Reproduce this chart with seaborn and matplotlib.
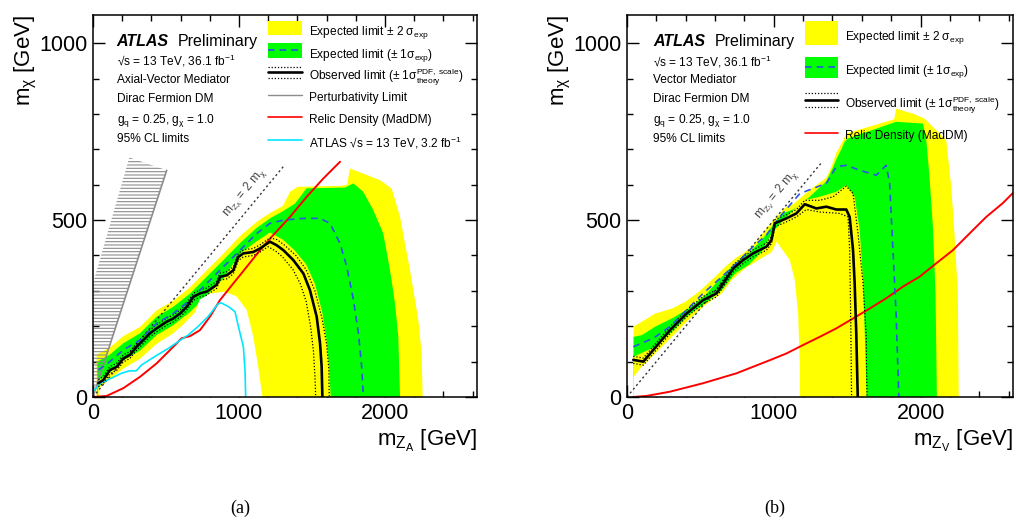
import matplotlib
matplotlib.use("Agg")
import matplotlib.pyplot as plt
import numpy as np
import seaborn as sns
from matplotlib.lines import Line2D
from matplotlib.patches import Rectangle
from matplotlib.ticker import MultipleLocator

# ---------------------------------------------------------------------------
# values (GeV)
# (a) axial-vector mediator
a_p2_x = [25, 25, 116, 208, 322, 436, 550, 664, 779, 893, 1007, 1121, 1212, 1300, 1350, 1400, 1700, 1740, 1760, 1966, 2046, 2103, 2171, 2228, 2251, 2258]
a_p2_y = [0, 120, 140, 172, 198, 245, 272, 310, 358, 405, 455, 495, 520, 540, 580, 594, 597, 600, 646, 613, 589, 509, 359, 218, 123, 0]
a_p1_x = [30, 30, 116, 208, 322, 436, 550, 664, 779, 893, 1007, 1121, 1212, 1300, 1384, 1463, 1726, 1783, 1851, 1920, 1988, 2034, 2068, 2091, 2103]
a_p1_y = [0, 100, 120, 152, 180, 227, 255, 292, 340, 387, 435, 478, 505, 525, 547, 590, 592, 604, 580, 528, 462, 359, 265, 170, 0]
a_m1_x = [35, 35, 116, 208, 322, 436, 550, 664, 779, 893, 1007, 1121, 1212, 1300, 1380, 1460, 1520, 1570, 1600, 1618, 1628]
a_m1_y = [0, 45, 70, 103, 131, 175, 203, 240, 287, 335, 405, 440, 465, 445, 415, 375, 320, 240, 160, 80, 0]
a_m2_x = [40, 40, 116, 208, 322, 436, 550, 620, 700, 730, 800, 900, 980, 1010, 1053, 1098, 1132, 1160]
a_m2_y = [0, 25, 50, 80, 108, 150, 180, 205, 240, 275, 292, 298, 285, 270, 246, 170, 85, 0]

a_exp_x = [37, 116, 208, 322, 436, 550, 664, 779, 893, 1007, 1121, 1212, 1304, 1441, 1555, 1623, 1692, 1738, 1784, 1818, 1840, 1852]
a_exp_y = [76, 100, 133, 161, 208, 236, 274, 321, 368, 415, 462, 491, 500, 505, 505, 491, 434, 368, 274, 180, 86, 0]

a_obs_x = [37, 71, 116, 162, 208, 253, 299, 345, 390, 436, 505, 550, 596, 642, 687, 733, 779, 847, 870, 916, 961, 995, 1030, 1098, 1144, 1212, 1258, 1304, 1372, 1441, 1486, 1532, 1555, 1566, 1571]
a_obs_y = [39, 48, 76, 85, 109, 119, 142, 161, 180, 194, 213, 222, 236, 255, 283, 293, 298, 317, 340, 344, 358, 396, 406, 410, 420, 439, 429, 415, 387, 349, 302, 227, 152, 86, 0]
a_obs_up_x = [37, 71, 116, 162, 208, 253, 299, 345, 390, 436, 505, 550, 596, 642, 687, 733, 779, 847, 870, 916, 961, 995, 1030, 1098, 1144, 1212, 1260, 1310, 1390, 1460, 1520, 1570, 1600, 1615, 1618]
a_obs_up_y = [49, 58, 86, 95, 119, 129, 152, 171, 190, 204, 223, 232, 246, 265, 293, 303, 308, 327, 350, 354, 368, 406, 416, 420, 430, 450, 445, 430, 400, 360, 300, 220, 150, 80, 0]
a_obs_dn_x = [37, 71, 116, 162, 208, 253, 299, 345, 390, 436, 505, 550, 596, 642, 687, 733, 779, 847, 870, 916, 961, 995, 1030, 1098, 1144, 1200, 1260, 1300, 1370, 1420, 1460, 1490, 1510, 1520, 1525]
a_obs_dn_y = [29, 38, 66, 75, 99, 109, 132, 151, 170, 184, 203, 212, 226, 245, 273, 283, 288, 307, 330, 334, 348, 386, 396, 400, 410, 425, 410, 395, 360, 320, 270, 200, 130, 60, 0]

a_relic_x = [0, 94, 208, 322, 436, 550, 607, 664, 733, 801, 870, 961, 1053, 1144, 1224, 1349, 1464, 1578, 1692]
a_relic_y = [0, 3, 25, 57, 95, 142, 166, 172, 189, 227, 274, 321, 368, 415, 453, 509, 566, 618, 665]
a_prev_x = [11, 57, 126, 194, 251, 297, 331, 422, 514, 582, 651, 719, 788, 856, 879, 930, 973, 996, 1030, 1041, 1046]
a_prev_y = [20, 40, 53, 67, 74, 74, 90, 114, 137, 156, 175, 199, 227, 263, 266, 255, 241, 199, 142, 76, 0]
a_pert_x = [0, 505]
a_pert_y = [0, 641]
a_pert_hatch_x = [0, 505, 249, -40]
a_pert_hatch_y = [0, 641, 677, 263]
a_diag_x = [0, 1315]
a_diag_y = [0, 657]

# (b) vector mediator
b_p2_x = [45, 45, 102, 193, 306, 397, 488, 578, 669, 737, 805, 873, 941, 1009, 1077, 1132, 1245, 1358, 1392, 1426, 1472, 1494, 1820, 1834, 1948, 2027, 2175, 2209, 2231, 2254, 2260]
b_p2_y = [0, 199, 213, 236, 250, 269, 297, 331, 368, 392, 410, 434, 472, 505, 535, 545, 585, 620, 650, 690, 725, 745, 785, 815, 801, 787, 726, 594, 462, 293, 0]
b_p1_x = [45, 45, 102, 193, 306, 420, 533, 646, 737, 828, 918, 986, 1054, 1132, 1245, 1358, 1404, 1426, 1460, 1483, 1505, 1834, 2016, 2039, 2061, 2084, 2102, 2111]
b_p1_y = [0, 170, 175, 199, 222, 250, 288, 340, 378, 406, 444, 481, 519, 530, 566, 610, 650, 672, 700, 722, 731, 778, 773, 726, 622, 481, 293, 0]
b_m1_x = [45, 45, 193, 306, 420, 533, 646, 737, 828, 918, 986, 1054, 1199, 1313, 1426, 1494, 1551, 1585, 1608, 1619, 1633]
b_m1_y = [0, 114, 142, 185, 232, 265, 302, 349, 373, 410, 462, 495, 556, 566, 580, 599, 566, 472, 331, 189, 0]
b_m2_x = [45, 45, 102, 193, 306, 420, 533, 646, 714, 805, 896, 986, 1020, 1109, 1143, 1166, 1177, 1177]
b_m2_y = [0, 57, 86, 123, 170, 218, 260, 293, 331, 364, 387, 410, 439, 387, 331, 236, 95, 0]

b_exp_x = [43, 179, 293, 406, 519, 633, 746, 859, 950, 1041, 1177, 1358, 1426, 1494, 1585, 1698, 1766, 1789, 1812, 1834, 1852]
b_exp_y = [142, 166, 199, 246, 293, 335, 378, 425, 458, 509, 575, 604, 651, 655, 641, 627, 655, 604, 415, 227, 0]

b_obs_x = [43, 111, 179, 293, 406, 519, 610, 678, 723, 791, 859, 950, 984, 1007, 1086, 1154, 1211, 1290, 1358, 1426, 1494, 1517, 1540, 1551, 1562, 1572]
b_obs_y = [105, 100, 133, 189, 236, 274, 293, 335, 363, 387, 406, 425, 443, 491, 505, 519, 545, 533, 538, 530, 530, 509, 415, 321, 180, 0]
b_obs_up_x = [43, 111, 179, 293, 406, 519, 610, 678, 723, 791, 859, 950, 984, 1007, 1086, 1154, 1211, 1313, 1404, 1494, 1540, 1574, 1608, 1630, 1635]
b_obs_up_y = [115, 110, 143, 199, 246, 284, 303, 345, 373, 397, 416, 435, 453, 501, 515, 530, 556, 556, 566, 596, 575, 462, 321, 171, 0]
b_obs_dn_x = [43, 111, 179, 293, 406, 519, 610, 678, 723, 791, 859, 950, 984, 1007, 1086, 1154, 1222, 1313, 1449, 1506, 1517, 1524, 1530]
b_obs_dn_y = [95, 90, 123, 179, 226, 264, 283, 325, 353, 377, 396, 415, 433, 481, 495, 509, 530, 523, 519, 509, 415, 227, 0]

b_relic_x = [43, 134, 293, 519, 746, 973, 1086, 1200, 1313, 1426, 1540, 1653, 1766, 1880, 1993, 2107, 2220, 2333, 2447, 2560, 2630]
b_relic_y = [0, 3, 15, 39, 67, 104, 123, 147, 170, 194, 222, 250, 279, 312, 340, 378, 415, 462, 509, 548, 577]
b_diag_x = [0, 1320]
b_diag_y = [0, 660]

# ---------------------------------------------------------------------------
YELLOW = "#ffff00"
GREEN = "#00ff00"
BLUE = "#2a55e6"
RED = "#ff0000"
CYAN = "#00e8ff"
GREY = "#8c8c8c"
SMALL = 8.6

sns.set_theme(style="ticks")
plt.rcParams["font.family"] = ["Liberation Sans", "DejaVu Sans"]
plt.rcParams.update({
    "mathtext.fontset": "custom",
    "mathtext.rm": "Liberation Sans",
    "mathtext.it": "Liberation Sans:italic",
    "mathtext.bf": "Liberation Sans:bold",
    "mathtext.sf": "Liberation Sans",
    "hatch.linewidth": 0.8,
    "hatch.color": GREY,
    "axes.linewidth": 1.1,
    "axes.edgecolor": "black",
    "axes.labelcolor": "black",
    "text.color": "black",
    "xtick.color": "black",
    "ytick.color": "black",
})

fig = plt.figure(figsize=(10.16, 5.27), dpi=100)
axA = fig.add_axes([0.0915, 0.2467, 0.378, 0.7249])
axB = fig.add_axes([0.6171, 0.2467, 0.380, 0.7249])


def line(ax, x, y, **kw):
    sns.lineplot(x=x, y=y, sort=False, estimator=None, ax=ax, **kw)


def draw_limits(ax, p2, p1, m1, m2, exp, obs, obs_up, obs_dn, relic, diag):
    ax.fill(*p2, color=YELLOW, lw=0, zorder=1)
    ax.fill(*p1, color=GREEN, lw=0, zorder=1.1)
    ax.fill(*m1, color=YELLOW, lw=0, zorder=1.2)
    ax.fill(*m2, color="white", lw=0, zorder=1.3)
    line(ax, *diag, color="#333333", lw=1.0, linestyle=(0, (1.5, 2)), zorder=3)
    line(ax, *relic, color=RED, lw=1.4, zorder=4)
    line(ax, *obs_up, color="black", lw=0.9, linestyle=(0, (1, 1.5)), zorder=5)
    line(ax, *obs_dn, color="black", lw=0.9, linestyle=(0, (1, 1.5)), zorder=5)
    line(ax, *exp, color=BLUE, lw=1.2, linestyle=(0, (4, 3)), zorder=5)
    line(ax, *obs, color="black", lw=1.9, zorder=6)


draw_limits(axA, (a_p2_x, a_p2_y), (a_p1_x, a_p1_y), (a_m1_x, a_m1_y), (a_m2_x, a_m2_y),
            (a_exp_x, a_exp_y), (a_obs_x, a_obs_y), (a_obs_up_x, a_obs_up_y), (a_obs_dn_x, a_obs_dn_y),
            (a_relic_x, a_relic_y), (a_diag_x, a_diag_y))
axA.fill(a_pert_hatch_x, a_pert_hatch_y, facecolor="none", edgecolor=GREY, hatch="-----", lw=0, zorder=2)
line(axA, a_pert_x, a_pert_y, color=GREY, lw=1.2, zorder=2.5)
line(axA, a_prev_x, a_prev_y, color=CYAN, lw=1.2, zorder=4)

draw_limits(axB, (b_p2_x, b_p2_y), (b_p1_x, b_p1_y), (b_m1_x, b_m1_y), (b_m2_x, b_m2_y),
            (b_exp_x, b_exp_y), (b_obs_x, b_obs_y), (b_obs_up_x, b_obs_up_y), (b_obs_dn_x, b_obs_dn_y),
            (b_relic_x, b_relic_y), (b_diag_x, b_diag_y))

slope_angle = np.degrees(np.arctan(0.5))
axA.text(1034, 578, r"m$_{\mathrm{Z_{A}}}$ = 2 m$_{\mathrm{\chi}}$", rotation=slope_angle,
         transform_rotates_text=True, rotation_mode="anchor", ha="center", va="center",
         fontsize=SMALL, color="#444444", zorder=7)
axB.text(1020, 573, r"m$_{\mathrm{Z_{V}}}$ = 2 m$_{\mathrm{\chi}}$", rotation=slope_angle,
         transform_rotates_text=True, rotation_mode="anchor", ha="center", va="center",
         fontsize=SMALL, color="#444444", zorder=7)

for ax, zlab in ((axA, "A"), (axB, "V")):
    ax.set_xlim(0, 2630)
    ax.set_ylim(0, 1080)
    ax.xaxis.set_major_locator(MultipleLocator(1000))
    ax.xaxis.set_minor_locator(MultipleLocator(200))
    ax.yaxis.set_major_locator(MultipleLocator(500))
    ax.yaxis.set_minor_locator(MultipleLocator(100))
    ax.tick_params(axis="both", which="both", direction="in", top=True, right=True,
                   labelsize=15.5, pad=4, width=1.0)
    ax.tick_params(which="major", length=8.5)
    ax.tick_params(which="minor", length=4)
    ax.set_xlabel(r"m$_{\mathrm{Z_{%s}}}$ [GeV]" % zlab, loc="right", fontsize=16, labelpad=3)
    ax.set_ylabel(r"m$_{\mathrm{\chi}}$ [GeV]", loc="top", fontsize=16, labelpad=0)
    for s in ax.spines.values():
        s.set_zorder(10)


def txt(ax, x, y, s, **kw):
    kw.setdefault("fontsize", SMALL)
    ax.text(x, y, s, transform=ax.transAxes, va="center_baseline", ha="left", zorder=8, **kw)


def box(ax, x0, x1, yc, h, color):
    ax.add_patch(Rectangle((x0, yc - h / 2), x1 - x0, h, transform=ax.transAxes,
                           facecolor=color, lw=0, zorder=8, clip_on=False))


def hline(ax, x0, x1, yc, **kw):
    ax.add_line(Line2D([x0, x1], [yc, yc], transform=ax.transAxes, zorder=9, **kw))


def obs_handle(ax, x0, x1, yc, off):
    hline(ax, x0, x1, yc, color="black", lw=1.9)
    hline(ax, x0, x1, yc + off, color="black", lw=0.9, linestyle=(0, (1, 1.5)))
    hline(ax, x0, x1, yc - off, color="black", lw=0.9, linestyle=(0, (1, 1.5)))


lab_2s = r"Expected limit $\pm$ 2 $\mathrm{\sigma_{exp}}$"
lab_1s = r"Expected limit ($\pm$ 1$\mathrm{\sigma_{exp}}$)"
lab_obs = r"Observed limit ($\pm$ 1$\mathrm{\sigma^{PDF,\ scale}_{theory}}$)"

# header text, panel (a)
txt(axA, 0.062, 0.935, "ATLAS", fontsize=11.5, weight="bold", style="italic")
txt(axA, 0.221, 0.935, "Preliminary", fontsize=11.5)
txt(axA, 0.062, 0.884, "√s = 13 TeV, 36.1 fb$^{-1}$")
txt(axA, 0.062, 0.834, "Axial-Vector Mediator")
txt(axA, 0.062, 0.783, "Dirac Fermion DM")
txt(axA, 0.062, 0.733, r"g$_{\mathrm{q}}$ = 0.25, g$_{\mathrm{\chi}}$ = 1.0")
txt(axA, 0.062, 0.680, "95% CL limits")

# legend, panel (a)
hx0, hx1, tx = 0.456, 0.5435, 0.563
box(axA, hx0, hx1, 0.966, 0.0385, YELLOW)
txt(axA, tx, 0.962, lab_2s)
box(axA, hx0, hx1, 0.907, 0.0385, GREEN)
hline(axA, hx0, hx1, 0.907, color=BLUE, lw=1.2, linestyle=(0, (4, 3)))
txt(axA, tx, 0.903, lab_1s)
obs_handle(axA, hx0, hx1, 0.850, 0.015)
txt(axA, tx, 0.846, lab_obs)
hline(axA, hx0, hx1, 0.791, color=GREY, lw=1.0)
txt(axA, tx, 0.787, "Perturbativity Limit")
hline(axA, hx0, hx1, 0.732, color=RED, lw=1.2)
txt(axA, tx, 0.728, "Relic Density (MadDM)")
hline(axA, hx0, hx1, 0.673, color=CYAN, lw=1.2)
txt(axA, tx, 0.669, "ATLAS √s = 13 TeV, 3.2 fb$^{-1}$")

# header text, panel (b)
txt(axB, 0.068, 0.935, "ATLAS", fontsize=11.5, weight="bold", style="italic")
txt(axB, 0.228, 0.935, "Preliminary", fontsize=11.5)
txt(axB, 0.068, 0.883, "√s = 13 TeV, 36.1 fb$^{-1}$")
txt(axB, 0.068, 0.835, "Vector Mediator")
txt(axB, 0.068, 0.783, "Dirac Fermion DM")
txt(axB, 0.068, 0.733, r"g$_{\mathrm{q}}$ = 0.25, g$_{\mathrm{\chi}}$ = 1.0")
txt(axB, 0.068, 0.678, "95% CL limits")

# legend, panel (b)
hx0, hx1, tx = 0.461, 0.547, 0.565
box(axB, hx0, hx1, 0.953, 0.061, YELLOW)
txt(axB, tx, 0.949, lab_2s)
box(axB, hx0, hx1, 0.8626, 0.057, GREEN)
hline(axB, hx0, hx1, 0.8626, color=BLUE, lw=1.2, linestyle=(0, (4, 3)))
txt(axB, tx, 0.859, lab_1s)
obs_handle(axB, hx0, hx1, 0.777, 0.018)
txt(axB, tx, 0.773, lab_obs)
hline(axB, hx0, hx1, 0.690, color=RED, lw=1.2)
txt(axB, tx, 0.686, "Relic Density (MadDM)")

fig.text(240 / 1016, 1 - 508 / 527, "(a)", ha="center", va="center",
         family="Liberation Serif", fontsize=13)
fig.text(775 / 1016, 1 - 508 / 527, "(b)", ha="center", va="center",
         family="Liberation Serif", fontsize=13)

fig.savefig("out.png", dpi=100)
